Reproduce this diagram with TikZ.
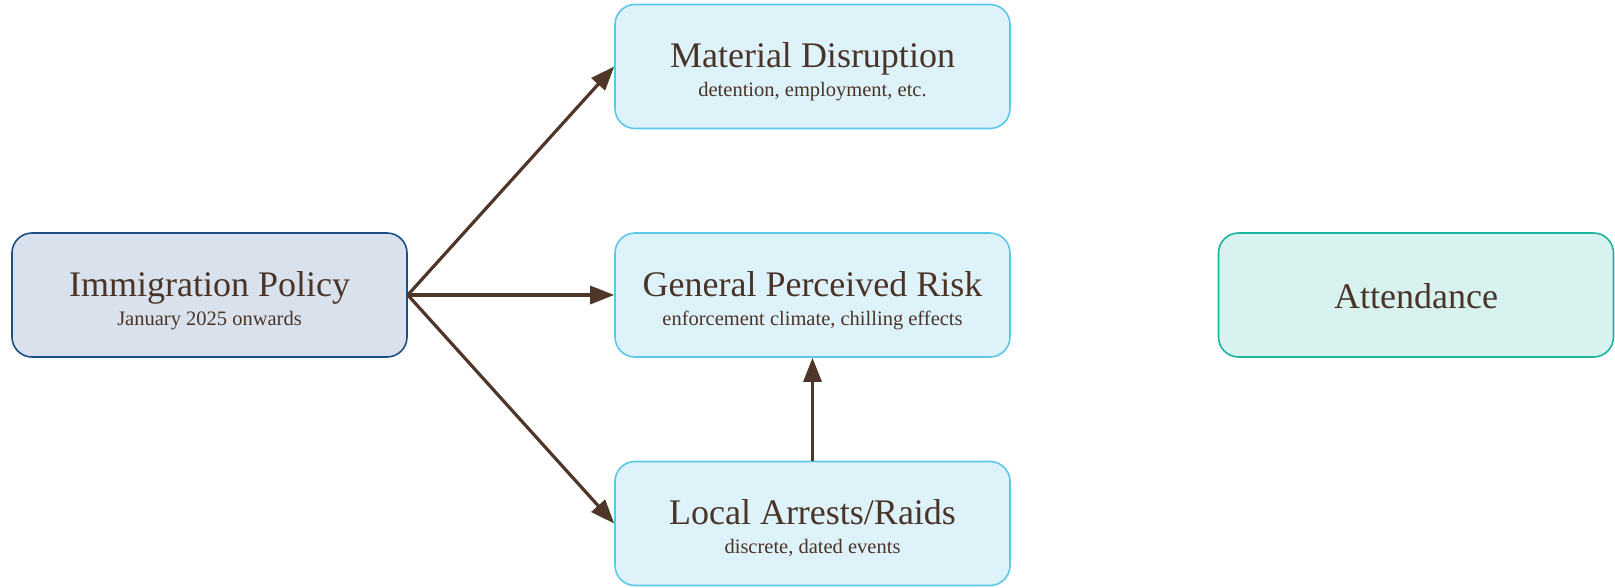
\documentclass[tikz,border=0pt]{standalone}
\usepackage{fontspec}
\setmainfont{Liberation Serif}
\usetikzlibrary{arrows.meta}
\definecolor{txt}{HTML}{4A3428}
\definecolor{arr}{HTML}{4E3629}
\definecolor{polfill}{HTML}{D9E2EC}
\definecolor{poldraw}{HTML}{1B4F82}
\definecolor{medfill}{HTML}{DEF2FA}
\definecolor{meddraw}{HTML}{5BC8E8}
\definecolor{outfill}{HTML}{D7F2EF}
\definecolor{outdraw}{HTML}{1AB59C}
\tikzset{
  box/.style={rectangle, rounded corners=20pt, line width=1.6pt, minimum width=395pt, minimum height=124pt, inner sep=0pt},
  polbox/.style={box, fill=polfill, draw=poldraw},
  medbox/.style={box, fill=medfill, draw=meddraw},
  outbox/.style={box, fill=outfill, draw=outdraw},
  ttl/.style={anchor=base, text=txt, font=\fontsize{36}{42}\selectfont, inner sep=0pt},
  sub/.style={anchor=base, text=txt, font=\fontsize{20.5}{24}\selectfont, inner sep=0pt},
  conn/.style={draw=arr, line width=3.2pt, -{Triangle[length=24pt,width=18pt]}}
}
\begin{document}
\begin{tikzpicture}[x=1pt,y=-1pt]
\useasboundingbox (0,0) rectangle (1615,587);
\node[polbox] (pol) at (209.5,295) {};
\node[medbox] (mat) at (812.5,66.5) {};
\node[medbox] (gen) at (812.5,295) {};
\node[medbox] (loc) at (812.5,523.5) {};
\node[outbox] (att) at (1416,295) {};

\node[ttl] (polt) at (209.5,296) {Immigration Policy};
\node[sub] (pols) at (209.5,325) {January 2025 onwards};
\node[ttl] (matt) at (812.5,67.5) {Material Disruption};
\node[sub] (mats) at (812.5,96) {detention, employment, etc.};
\node[ttl] (gent) at (812.5,296) {General Perceived Risk};
\node[sub] (gens) at (812.5,325) {enforcement climate, chilling effects};
\node[ttl] (loct) at (812.5,524.5) {Local Arrests/Raids};
\node[sub] (locs) at (812.5,553) {discrete, dated events};
\node[ttl] (attt) at (1416,308) {Attendance};

\draw[conn] (pol.east) -- (mat.west);
\draw[conn] (pol.east) -- (gen.west);
\draw[conn] (pol.east) -- (loc.west);
\draw[conn] (loc.north) -- (gen.south);
\end{tikzpicture}
\end{document}
